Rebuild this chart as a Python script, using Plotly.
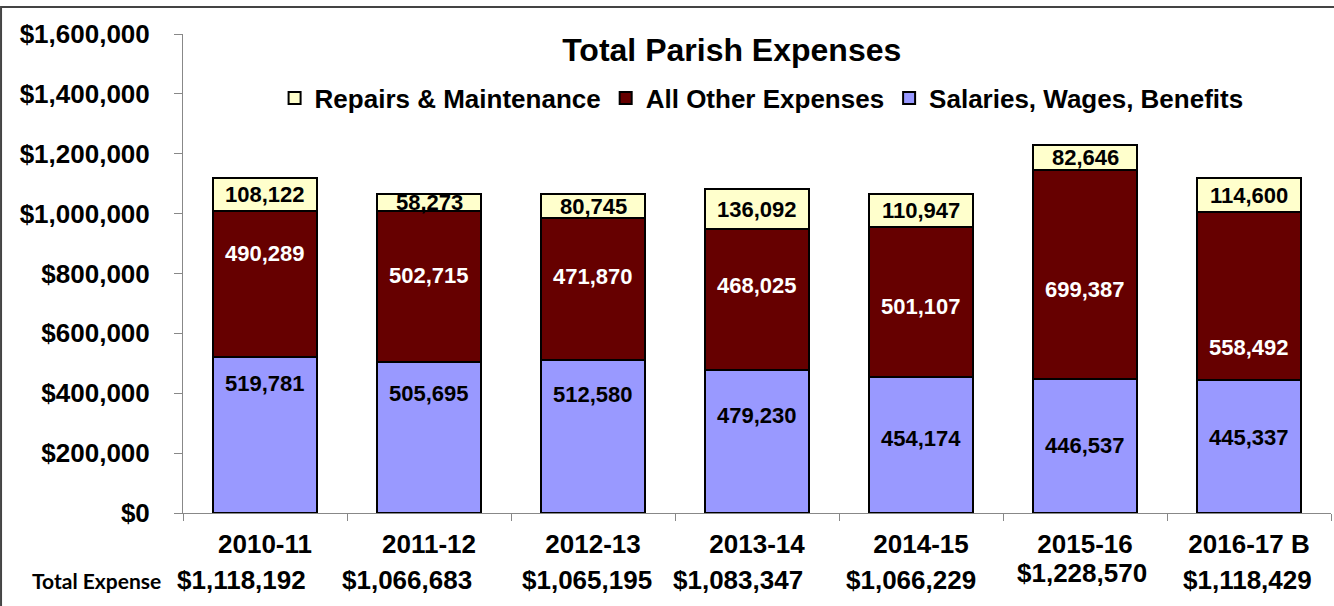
import plotly.graph_objects as go

categories = ["2010-11", "2011-12", "2012-13", "2013-14", "2014-15", "2015-16", "2016-17 B"]
salaries = [519781, 505695, 512580, 479230, 454174, 446537, 445337]
other_expenses = [490289, 502715, 471870, 468025, 501107, 699387, 558492]
repairs = [108122, 58273, 80745, 136092, 110947, 82646, 114600]
total_labels = ["$1,118,192", "$1,066,683", "$1,065,195", "$1,083,347",
                "$1,066,229", "$1,228,570", "$1,118,429"]
y_tickvals = [0, 200000, 400000, 600000, 800000, 1000000, 1200000, 1400000, 1600000]

# label placement nudges (pixels) as in the original layout
nudge_sal = [52, 44, 42, 26, 7, 1, 9]
nudge_oth = [31, 11, 12, 14, -4, -15, -51]
total_shift = [-67, -67, -67, -67, -67, -60, -67]
total_xshift = [-24, -22, -6, -19, -10, -3, -2]

FONT = "Liberation Sans"
C_SAL = "#9999FF"
C_OTH = "#660000"
C_REP = "#FFFFCC"

fig = go.Figure()
for name, vals, col in [("Salaries, Wages, Benefits", salaries, C_SAL),
                        ("All Other Expenses", other_expenses, C_OTH),
                        ("Repairs & Maintenance", repairs, C_REP)]:
    fig.add_trace(go.Bar(
        x=categories, y=vals, name=name,
        marker=dict(color=col, line=dict(color="black", width=2)),
        hoverinfo="x+y+name",
    ))

ann = []
for i, c in enumerate(categories):
    s, o, r = salaries[i], other_expenses[i], repairs[i]
    ann.append(dict(x=c, y=s / 2, text=f"{s:,}", showarrow=False, yshift=nudge_sal[i],
                    font=dict(family=FONT, size=22, color="black", weight="bold")))
    ann.append(dict(x=c, y=s + o / 2, text=f"{o:,}", showarrow=False, yshift=nudge_oth[i],
                    font=dict(family=FONT, size=22, color="white", weight="bold")))
    ann.append(dict(x=c, y=s + o + r / 2, text=f"{r:,}", showarrow=False,
                    font=dict(family=FONT, size=22, color="black", weight="bold")))
    ann.append(dict(x=c, y=0, yref="paper", text=total_labels[i], showarrow=False,
                    yanchor="middle", yshift=total_shift[i], xshift=total_xshift[i],
                    font=dict(family=FONT, size=26, color="black", weight="bold")))

ann.append(dict(x=-0.075, xref="paper", y=0, yref="paper", text="Total Expense",
                showarrow=False, xanchor="center", yanchor="middle", yshift=-67,
                font=dict(family="Lato", size=21, color="black", weight="bold")))

fig.update_layout(
    width=1334, height=606,
    margin=dict(l=183, r=3, t=34, b=93),
    paper_bgcolor="white", plot_bgcolor="white",
    barmode="stack", bargap=0.366,
    title=dict(text="Total Parish Expenses", x=0.478, xref="paper",
               y=1 - 50 / 606, yref="container", xanchor="center", yanchor="middle",
               font=dict(family=FONT, size=32, color="black", weight="bold")),
    legend=dict(orientation="h", x=0.504, xanchor="center", y=0.866, yanchor="middle",
                traceorder="reversed", bgcolor="rgba(0,0,0,0)",
                font=dict(family=FONT, size=26, color="black", weight="bold")),
    xaxis=dict(type="category", range=[-0.5, 6.5], showline=True, linecolor="#888888",
               linewidth=1, ticks="outside", tickson="boundaries", ticklen=7,
               tickcolor="#888888", showgrid=False, ticklabelstandoff=8, automargin=False,
               tickfont=dict(family=FONT, size=26, color="black", weight="bold")),
    yaxis=dict(range=[0, 1600000], tickvals=y_tickvals,
               ticktext=[f"${v:,}" for v in y_tickvals],
               showline=True, linecolor="#888888", linewidth=1, ticks="outside",
               ticklen=8, tickcolor="#888888", showgrid=False, zeroline=False,
               ticklabelstandoff=19, automargin=False,
               tickfont=dict(family=FONT, size=26, color="black", weight="bold")),
    annotations=ann,
    shapes=[dict(type="rect", xref="paper", yref="paper", x0=-0.1585, x1=1.2,
                 y0=-0.3, y1=1.0564, line=dict(color="#444444", width=2),
                 fillcolor="rgba(0,0,0,0)", layer="above")],
    showlegend=True,
)

fig.write_html("out.html", config={"displayModeBar": False},
               post_script="document.body.style.margin='0px';")
